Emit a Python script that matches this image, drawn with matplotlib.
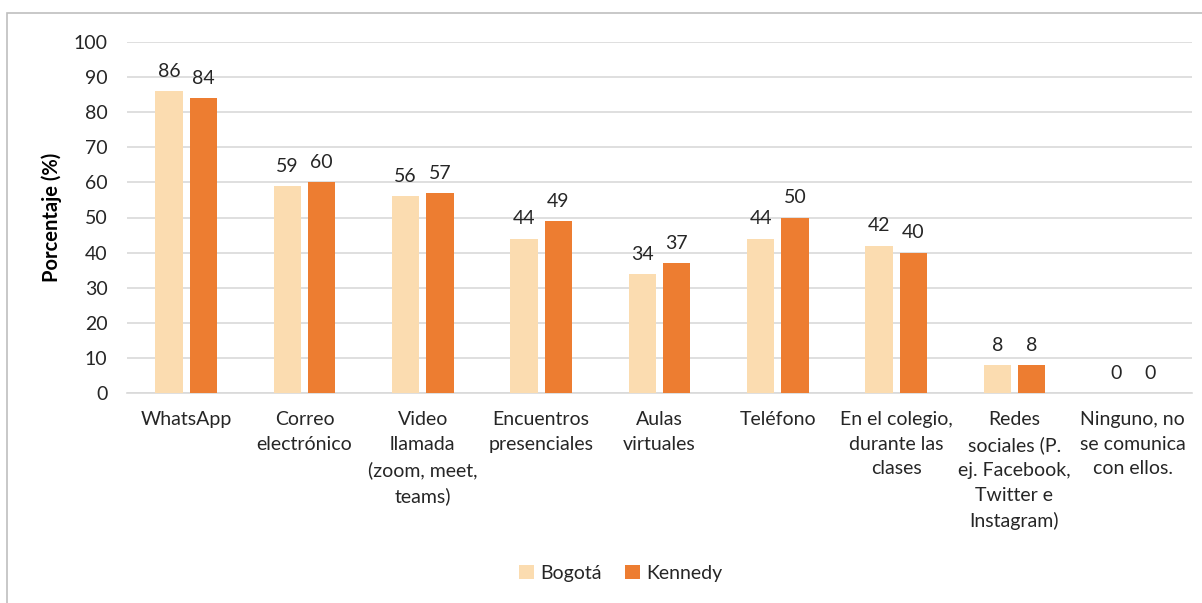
import numpy as np
import matplotlib.pyplot as plt
from matplotlib.patches import Rectangle

# Medios de comunicación con los docentes: Bogotá vs Kennedy
categorias = [
    "WhatsApp",
    "Correo\nelectrónico",
    "Video\nllamada\n(zoom, meet,\nteams)",
    "Encuentros\npresenciales",
    "Aulas\nvirtuales",
    "Teléfono",
    "En el colegio,\ndurante las\nclases",
    "Redes\nsociales (P.\nej. Facebook,\nTwitter e\nInstagram)",
    "Ninguno, no\nse comunica\ncon ellos.",
]
bogota = [86, 59, 56, 44, 34, 44, 42, 8, 0]
kennedy = [84, 60, 57, 49, 37, 50, 40, 8, 0]

color_bogota = "#FBDCB0"
color_kennedy = "#ED7D31"
texto = "#262626"

plt.rcParams['font.family'] = ['Lato', 'DejaVu Sans']
fs = 14

W, H = 1202, 603
fig = plt.figure(figsize=(W / 100, H / 100), dpi=100)

# marco exterior del gráfico
fig.patches.append(Rectangle((7 / W, -0.1), 1.2, 1 - 13 / H + 0.1,
                             transform=fig.transFigure, fill=False,
                             edgecolor="#BFBFBF", linewidth=1.2))

ax = fig.add_axes([127 / W, 1 - 393 / H, (1192 - 127) / W, (393 - 42) / H])

x = np.arange(len(categorias))
ancho = 0.23
sep = 0.145
b1 = ax.bar(x - sep, bogota, ancho, color=color_bogota, label="Bogotá", zorder=3)
b2 = ax.bar(x + sep, kennedy, ancho, color=color_kennedy, label="Kennedy", zorder=3)

for barras in (b1, b2):
    for rect in barras:
        h = rect.get_height()
        ax.annotate(f"{h:g}", (rect.get_x() + rect.get_width() / 2, h),
                    xytext=(0, 8), textcoords="offset points",
                    ha="center", va="bottom", fontsize=fs, color=texto)

ax.set_xlim(-0.5, len(categorias) - 0.5)
ax.set_ylim(0, 100)
ax.set_yticks(range(0, 101, 10))
ax.yaxis.grid(True, color="#D9D9D9", linewidth=1.2, zorder=0)
ax.set_axisbelow(True)
for lado in ("top", "right", "left"):
    ax.spines[lado].set_visible(False)
ax.spines["bottom"].set_color("#D9D9D9")
ax.spines["bottom"].set_linewidth(1.2)

ax.set_xticks(x)
ax.set_xticklabels(categorias, fontsize=fs, color=texto, linespacing=1.55, va="top")
ax.tick_params(axis="x", length=0, pad=13)
ax.tick_params(axis="y", length=0, pad=14, labelsize=fs, labelcolor=texto)

ax.set_ylabel("Porcentaje (%)", fontsize=14.5, fontweight="bold", color="black", labelpad=8)

fig.legend(handles=[b1, b2], labels=["Bogotá", "Kennedy"], loc="center",
           bbox_to_anchor=(621 / W, 1 - 573 / H), ncol=2, frameon=False,
           fontsize=fs, handlelength=0.75, handleheight=0.75, handletextpad=0.35,
           columnspacing=1.2, labelcolor=texto)

fig.savefig("out.png", dpi=100)
